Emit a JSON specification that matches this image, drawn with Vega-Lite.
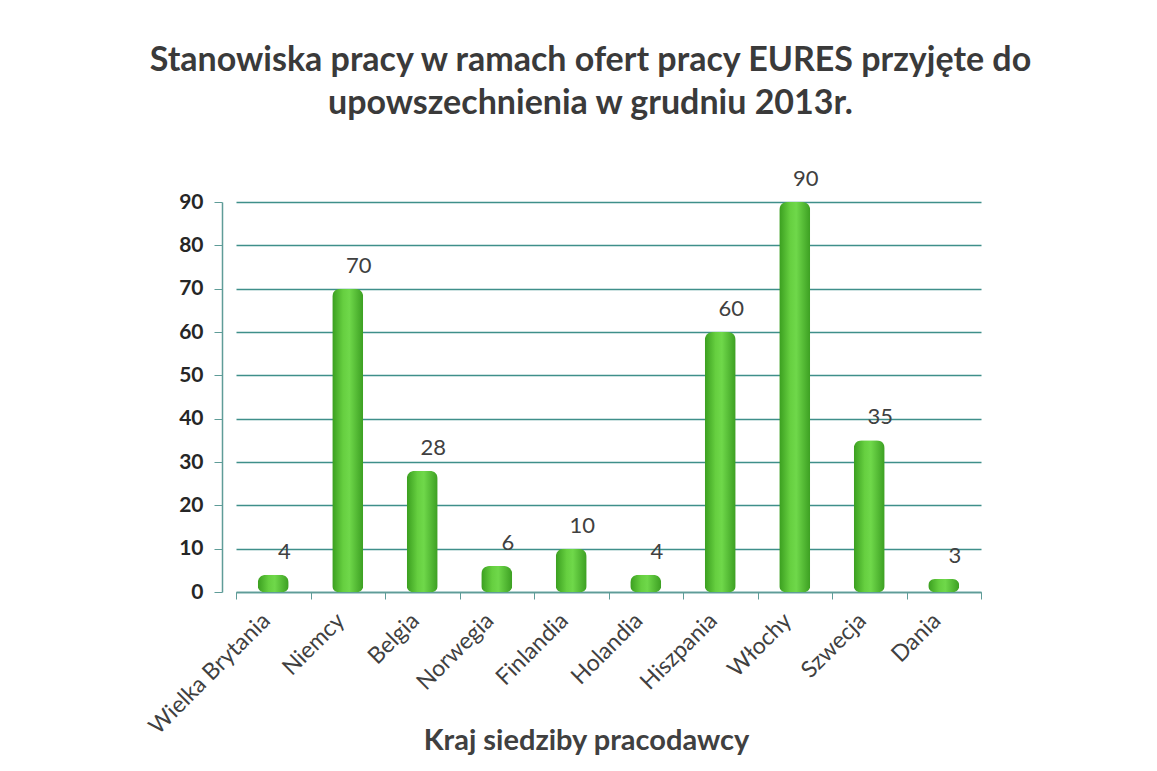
{
  "$schema": "https://vega.github.io/schema/vega-lite/v6.json",
  "autosize": {"type": "none"},
  "width": 745,
  "height": 390,
  "padding": {"left": 236, "top": 202, "right": 176, "bottom": 179},
  "background": "white",
  "config": {"font": "Lato", "view": {"stroke": null}},
  "title": {
    "text": ["Stanowiska pracy w ramach ofert pracy EURES przyjęte do", "upowszechnienia w grudniu 2013r."],
    "fontSize": 34,
    "fontWeight": "bold",
    "color": "#3a3a3a",
    "anchor": "middle",
    "frame": "group",
    "dx": -18,
    "offset": 47,
    "lineHeight": 43
  },
  "data": {
    "values": [
      {"kraj": "Wielka Brytania", "wartosc": 4},
      {"kraj": "Niemcy", "wartosc": 70},
      {"kraj": "Belgia", "wartosc": 28},
      {"kraj": "Norwegia", "wartosc": 6},
      {"kraj": "Finlandia", "wartosc": 10},
      {"kraj": "Holandia", "wartosc": 4},
      {"kraj": "Hiszpania", "wartosc": 60},
      {"kraj": "Włochy", "wartosc": 90},
      {"kraj": "Szwecja", "wartosc": 35},
      {"kraj": "Dania", "wartosc": 3}
    ]
  },
  "encoding": {
    "x": {
      "field": "kraj",
      "type": "nominal",
      "sort": null,
      "scale": {"paddingInner": 0, "paddingOuter": 0},
      "axis": {
        "title": "Kraj siedziby pracodawcy",
        "titleFontSize": 29,
        "titleFontWeight": "bold",
        "titleColor": "#404040",
        "titleX": 350,
        "titleY": 148,
        "titleBaseline": "middle",
        "labelAngle": -45,
        "labelFontSize": 23,
        "labelColor": "#404040",
        "labelOffset": -15,
        "labelPadding": 10,
        "domainColor": "#5f9c98",
        "domainWidth": 1.5,
        "tickColor": "#5f9c98",
        "tickBand": "extent",
        "tickSize": 7,
        "grid": false
      }
    },
    "y": {
      "field": "wartosc",
      "type": "quantitative",
      "scale": {"domain": [0, 90], "nice": false},
      "axis": {
        "title": null,
        "values": [0, 10, 20, 30, 40, 50, 60, 70, 80, 90],
        "offset": 14,
        "labelFontSize": 21,
        "labelFontWeight": "bold",
        "labelColor": "#262626",
        "labelPadding": 11,
        "domainColor": "#5f9c98",
        "domainWidth": 1.5,
        "tickColor": "#5f9c98",
        "tickSize": 8,
        "grid": true,
        "gridColor": "#3f8f8a",
        "gridWidth": 1.5
      }
    }
  },
  "layer": [
    {
      "mark": {
        "type": "bar",
        "width": 31,
        "cornerRadiusTopLeft": 8,
        "cornerRadiusTopRight": 8,
        "cornerRadiusBottomLeft": 6,
        "cornerRadiusBottomRight": 6,
        "color": {
          "gradient": "linear",
          "x1": 0, "y1": 0, "x2": 1, "y2": 0,
          "stops": [
            {"offset": 0, "color": "#3a9e1f"},
            {"offset": 0.35, "color": "#66cf40"},
            {"offset": 0.55, "color": "#6fd84a"},
            {"offset": 1, "color": "#3c9f22"}
          ]
        }
      }
    },
    {
      "mark": {"type": "text", "baseline": "bottom", "dy": -11, "dx": 11, "fontSize": 22, "color": "#404040"},
      "encoding": {"text": {"field": "wartosc", "type": "quantitative"}}
    }
  ]
}
